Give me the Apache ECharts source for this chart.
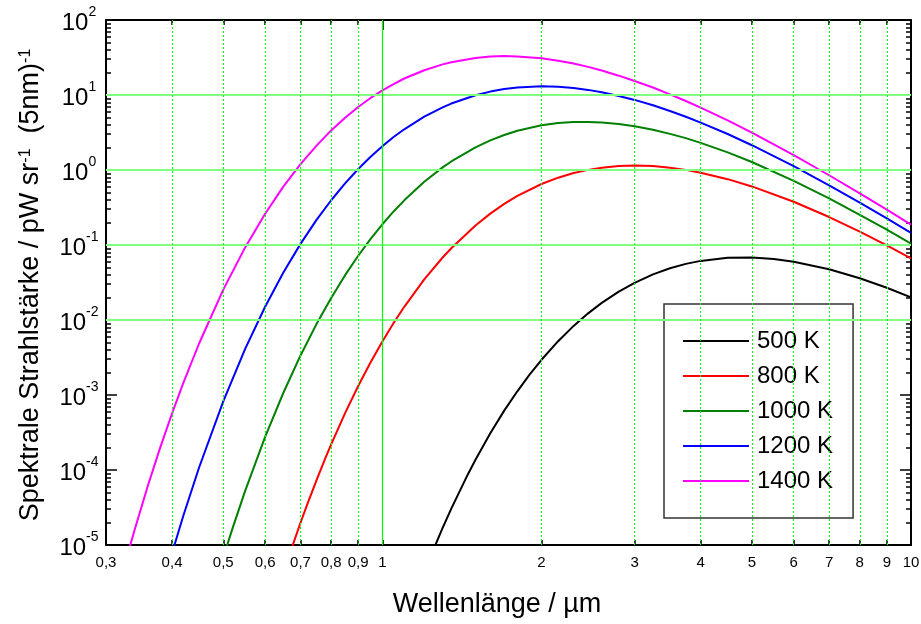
<!DOCTYPE html>
<html><head><meta charset="utf-8">
<script src="https://cdn.jsdelivr.net/npm/echarts@6/dist/echarts.min.js"></script>
<style>html,body{margin:0;padding:0;background:#fff}#c{width:921px;height:624px}</style>
</head><body><div id="c"></div>
<script>
const seriesNames = ['500 K', '800 K', '1000 K', '1200 K', '1400 K'];
const seriesColors = ['#000000', '#ff0000', '#008000', '#0000ff', '#ff00ff'];

const wl500 = [1.2, 1.25, 1.3, 1.35, 1.45, 1.5, 1.6, 1.7, 1.8, 1.9, 2.0, 2.15, 2.3, 2.45, 2.6, 2.8, 3.0, 3.25, 3.5, 3.75, 4.0, 4.5, 5.0, 5.5, 6.0, 7.0, 8.0, 9.0, 10];
const val500 = [4.3e-6, 8.8e-6, 1.69e-5, 3.06e-5, 8.66e-5, 1.37e-4, 3.09e-4, 6.19e-4, 1.12e-3, 1.88e-3, 2.95e-3, 5.22e-3, 8.34e-3, 0.01227, 0.0169, 0.0239, 0.0313, 0.0406, 0.0489, 0.0560, 0.0614, 0.0675, 0.0681, 0.0650, 0.0598, 0.0474, 0.0360, 0.0269, 0.0200];

const wl800 = [0.66, 0.68, 0.70, 0.72, 0.75, 0.78, 0.80, 0.85, 0.90, 0.95, 1.0, 1.05, 1.1, 1.2, 1.3, 1.35, 1.5, 1.6, 1.7, 1.8, 2.0, 2.15, 2.3, 2.45, 2.6, 2.8, 3.0, 3.25, 3.5, 3.75, 4.0, 4.5, 5.0, 6.0, 7.0, 8.0, 9.0, 10];
const val800 = [5.9e-6, 1.1e-5, 1.98e-5, 3.41e-5, 7.23e-5, 1.44e-4, 2.20e-4, 5.74e-4, 1.32e-3, 2.73e-3, 5.18e-3, 9.10e-3, 0.0150, 0.0348, 0.0681, 0.0906, 0.1824, 0.262, 0.353, 0.451, 0.651, 0.790, 0.910, 1.004, 1.074, 1.129, 1.147, 1.127, 1.074, 1.004, 0.921, 0.755, 0.604, 0.377, 0.236, 0.151, 0.0989, 0.0665];

const wl1000 = [0.50, 0.52, 0.55, 0.60, 0.65, 0.70, 0.75, 0.80, 0.85, 0.90, 0.95, 1.0, 1.05, 1.1, 1.2, 1.3, 1.35, 1.5, 1.6, 1.7, 1.8, 2.0, 2.15, 2.3, 2.45, 2.6, 2.8, 3.0, 3.25, 3.5, 3.75, 4.0, 4.5, 5.0, 6.0, 7.0, 8.0, 9.0, 10];
const val1000 = [6.8e-6, 1.63e-5, 5.27e-5, 2.76e-4, 1.08e-3, 3.37e-3, 8.75e-3, 0.0197, 0.0396, 0.0719, 0.1206, 0.189, 0.280, 0.394, 0.697, 1.083, 1.30, 2.00, 2.48, 2.93, 3.33, 3.94, 4.22, 4.35, 4.37, 4.30, 4.10, 3.83, 3.44, 3.03, 2.66, 2.30, 1.72, 1.278, 0.718, 0.418, 0.253, 0.160, 0.104];

const wl1200 = [0.39, 0.40, 0.42, 0.45, 0.50, 0.55, 0.60, 0.65, 0.70, 0.75, 0.80, 0.85, 0.90, 0.95, 1.0, 1.05, 1.1, 1.2, 1.3, 1.35, 1.5, 1.6, 1.7, 1.8, 2.0, 2.15, 2.3, 2.45, 2.6, 2.8, 3.0, 3.25, 3.5, 3.75, 4.0, 4.5, 5.0, 6.0, 7.0, 8.0, 9.0, 10];
const val1200 = [4.2e-6, 7.8e-6, 2.44e-5, 1.08e-4, 8.24e-4, 4.12e-3, 0.01503, 0.0434, 0.1035, 0.2143, 0.395, 0.664, 1.03, 1.50, 2.08, 2.75, 3.49, 5.14, 6.85, 7.69, 9.93, 11.1, 12.0, 12.6, 13.1, 12.9, 12.4, 11.7, 10.9, 9.72, 8.60, 7.29, 6.12, 5.13, 4.29, 3.02, 2.14, 1.125, 0.626, 0.367, 0.226, 0.145];

const wl1400 = [0.33, 0.34, 0.36, 0.38, 0.40, 0.42, 0.45, 0.50, 0.55, 0.60, 0.65, 0.70, 0.75, 0.80, 0.85, 0.90, 0.95, 1.0, 1.05, 1.1, 1.2, 1.3, 1.35, 1.5, 1.6, 1.7, 1.8, 2.0, 2.15, 2.3, 2.45, 2.6, 2.8, 3.0, 3.25, 3.5, 3.75, 4.0, 4.5, 5.0, 6.0, 7.0, 8.0, 9.0, 10];
const val1400 = [7.73e-6, 1.61e-5, 6.15e-5, 2.0e-4, 5.66e-4, 1.44e-3, 4.86e-3, 0.0254, 0.0929, 0.261, 0.604, 1.20, 2.10, 3.37, 4.98, 6.93, 9.13, 11.5, 14.0, 16.6, 21.4, 25.6, 27.4, 31.1, 32.5, 33.0, 32.7, 30.9, 28.7, 26.3, 23.7, 21.2, 18.1, 15.4, 12.6, 10.2, 8.31, 6.77, 4.58, 3.15, 1.58, 0.851, 0.489, 0.296, 0.187];

const xTicks = [0.3, 0.4, 0.5, 0.6, 0.7, 0.8, 0.9, 1, 2, 3, 4, 5, 6, 7, 8, 9, 10];
const xGridDotted = [0.4, 0.5, 0.6, 0.7, 0.8, 0.9, 2, 3, 4, 5, 6, 7, 8, 9];
const xGridSolid = [1];
const yMajor = [1e-5, 1e-4, 1e-3, 1e-2, 1e-1, 1, 10, 100];
const yGrid = [1e-4, 1e-3, 1e-2, 1e-1, 1, 10];
const yMinorFactors = [2, 3, 4, 5, 6, 7, 8, 9];
const xTitle = 'Wellenlänge / µm';

const yMinor = [];
yMajor.slice(0, -1).forEach(d => yMinorFactors.forEach(f => yMinor.push(+(d * f).toPrecision(3))));

const FONT = 'Liberation Sans, Arial, sans-serif';
const xMin = 0.3, xMax = 10, yMin = 1e-5, yMax = 100;

const chart = echarts.init(document.getElementById('c'));

function xAxisDef(pos, tickVals, tickLen, showLine, showLabel) {
  return {
    type: 'log', logBase: 10, min: xMin, max: xMax, position: pos,
    axisLine: { show: showLine, onZero: false, lineStyle: { color: '#000', width: 2 } },
    axisTick: { show: true, inside: true, length: tickLen, customValues: tickVals, lineStyle: { color: '#000', width: 1.5 } },
    axisLabel: showLabel ? {
      show: true, customValues: tickVals, interval: 0, hideOverlap: false,
      formatter: v => String(+(+v).toPrecision(3)).replace('.', ','),
      fontSize: 15, color: '#000', margin: 10, fontFamily: FONT
    } : { show: false },
    splitLine: { show: false }, minorTick: { show: false }, minorSplitLine: { show: false }
  };
}
function yAxisDef(pos, tickVals, tickLen, showLine, showLabel) {
  return {
    type: 'log', logBase: 10, min: yMin, max: yMax, position: pos,
    axisLine: { show: showLine, onZero: false, lineStyle: { color: '#000', width: 2 } },
    axisTick: { show: true, inside: true, length: tickLen, customValues: tickVals, lineStyle: { color: '#000', width: 1.5 } },
    axisLabel: showLabel ? {
      show: true, customValues: tickVals, interval: 0, hideOverlap: false,
      formatter: v => '{b|10}{s|' + Math.round(Math.log10(v)) + '}',
      align: 'center', margin: 27,
      rich: {
        b: { fontSize: 24, lineHeight: 30, verticalAlign: 'bottom', color: '#000', fontFamily: FONT },
        s: { fontSize: 14, lineHeight: 14, verticalAlign: 'top', color: '#000', fontFamily: FONT }
      }
    } : { show: false },
    splitLine: { show: false }, minorTick: { show: false }, minorSplitLine: { show: false }
  };
}

const gridLines = [];
yGrid.forEach(v => gridLines.push({ yAxis: v, lineStyle: { color: '#80ff80', width: 2, type: 'solid' } }));
xGridDotted.forEach(v => gridLines.push({ xAxis: v, lineStyle: { color: '#00ff00', width: 1, type: [2, 2] } }));
xGridSolid.forEach(v => gridLines.push({ xAxis: v, lineStyle: { color: '#00ff00', width: 1.2, type: 'solid' } }));

const wls = [wl500, wl800, wl1000, wl1200, wl1400];
const vals = [val500, val800, val1000, val1200, val1400];

const series = [{
  type: 'line', name: 'grid', data: [], z: 1, silent: true,
  markLine: { silent: true, symbol: 'none', animation: false, label: { show: false }, data: gridLines }
}];
seriesNames.forEach((n, i) => {
  series.push({
    type: 'line', name: n, z: 3, showSymbol: false, symbol: 'none',
    smooth: false, clip: true,
    lineStyle: { color: seriesColors[i], width: 2, join: 'round' },
    itemStyle: { color: seriesColors[i] },
    data: wls[i].map((w, j) => [w, vals[i][j]])
  });
});

chart.setOption({
  animation: false,
  backgroundColor: '#fff',
  grid: { left: 106, right: 10, top: 20, bottom: 79, containLabel: false, outerBoundsMode: 'none' },
  xAxis: [
    xAxisDef('bottom', xTicks, 5, true, true),
    xAxisDef('top', xTicks, 5, true, false),
    xAxisDef('top', [1], 10, false, false)
  ],
  yAxis: [
    yAxisDef('left', yMajor, 11, true, true),
    yAxisDef('left', yMinor, 5, false, false),
    yAxisDef('right', yMajor, 11, true, false),
    yAxisDef('right', yMinor, 5, false, false)
  ],
  legend: {
    data: seriesNames, orient: 'vertical', left: 664, top: 304,
    padding: [25, 20, 25, 19], itemGap: 11, itemWidth: 66, itemHeight: 2, icon: 'rect',
    backgroundColor: '#fff', borderColor: '#333', borderWidth: 1.5, borderRadius: 0,
    textStyle: { fontSize: 24, lineHeight: 24, color: '#000', fontFamily: FONT, padding: [0, 0, 0, 3] },
    selectedMode: false
  },
  graphic: [
    { type: 'text', x: 497, y: 605, style: { text: xTitle, fontSize: 27, fontFamily: FONT, fill: '#000', align: 'center', verticalAlign: 'middle' } },
    { type: 'text', x: 31, y: 285, rotation: Math.PI / 2,
      style: {
        text: 'Spektrale Strahlstärke / pW sr{s|-1}  (5nm){s|-1}',
        fontSize: 27, fontFamily: FONT, fill: '#000', align: 'center', verticalAlign: 'middle',
        rich: { s: { fontSize: 16, verticalAlign: 'top', lineHeight: 16, fontFamily: FONT, fill: '#000' } }
      } }
  ],
  series: series
});
</script></body></html>
